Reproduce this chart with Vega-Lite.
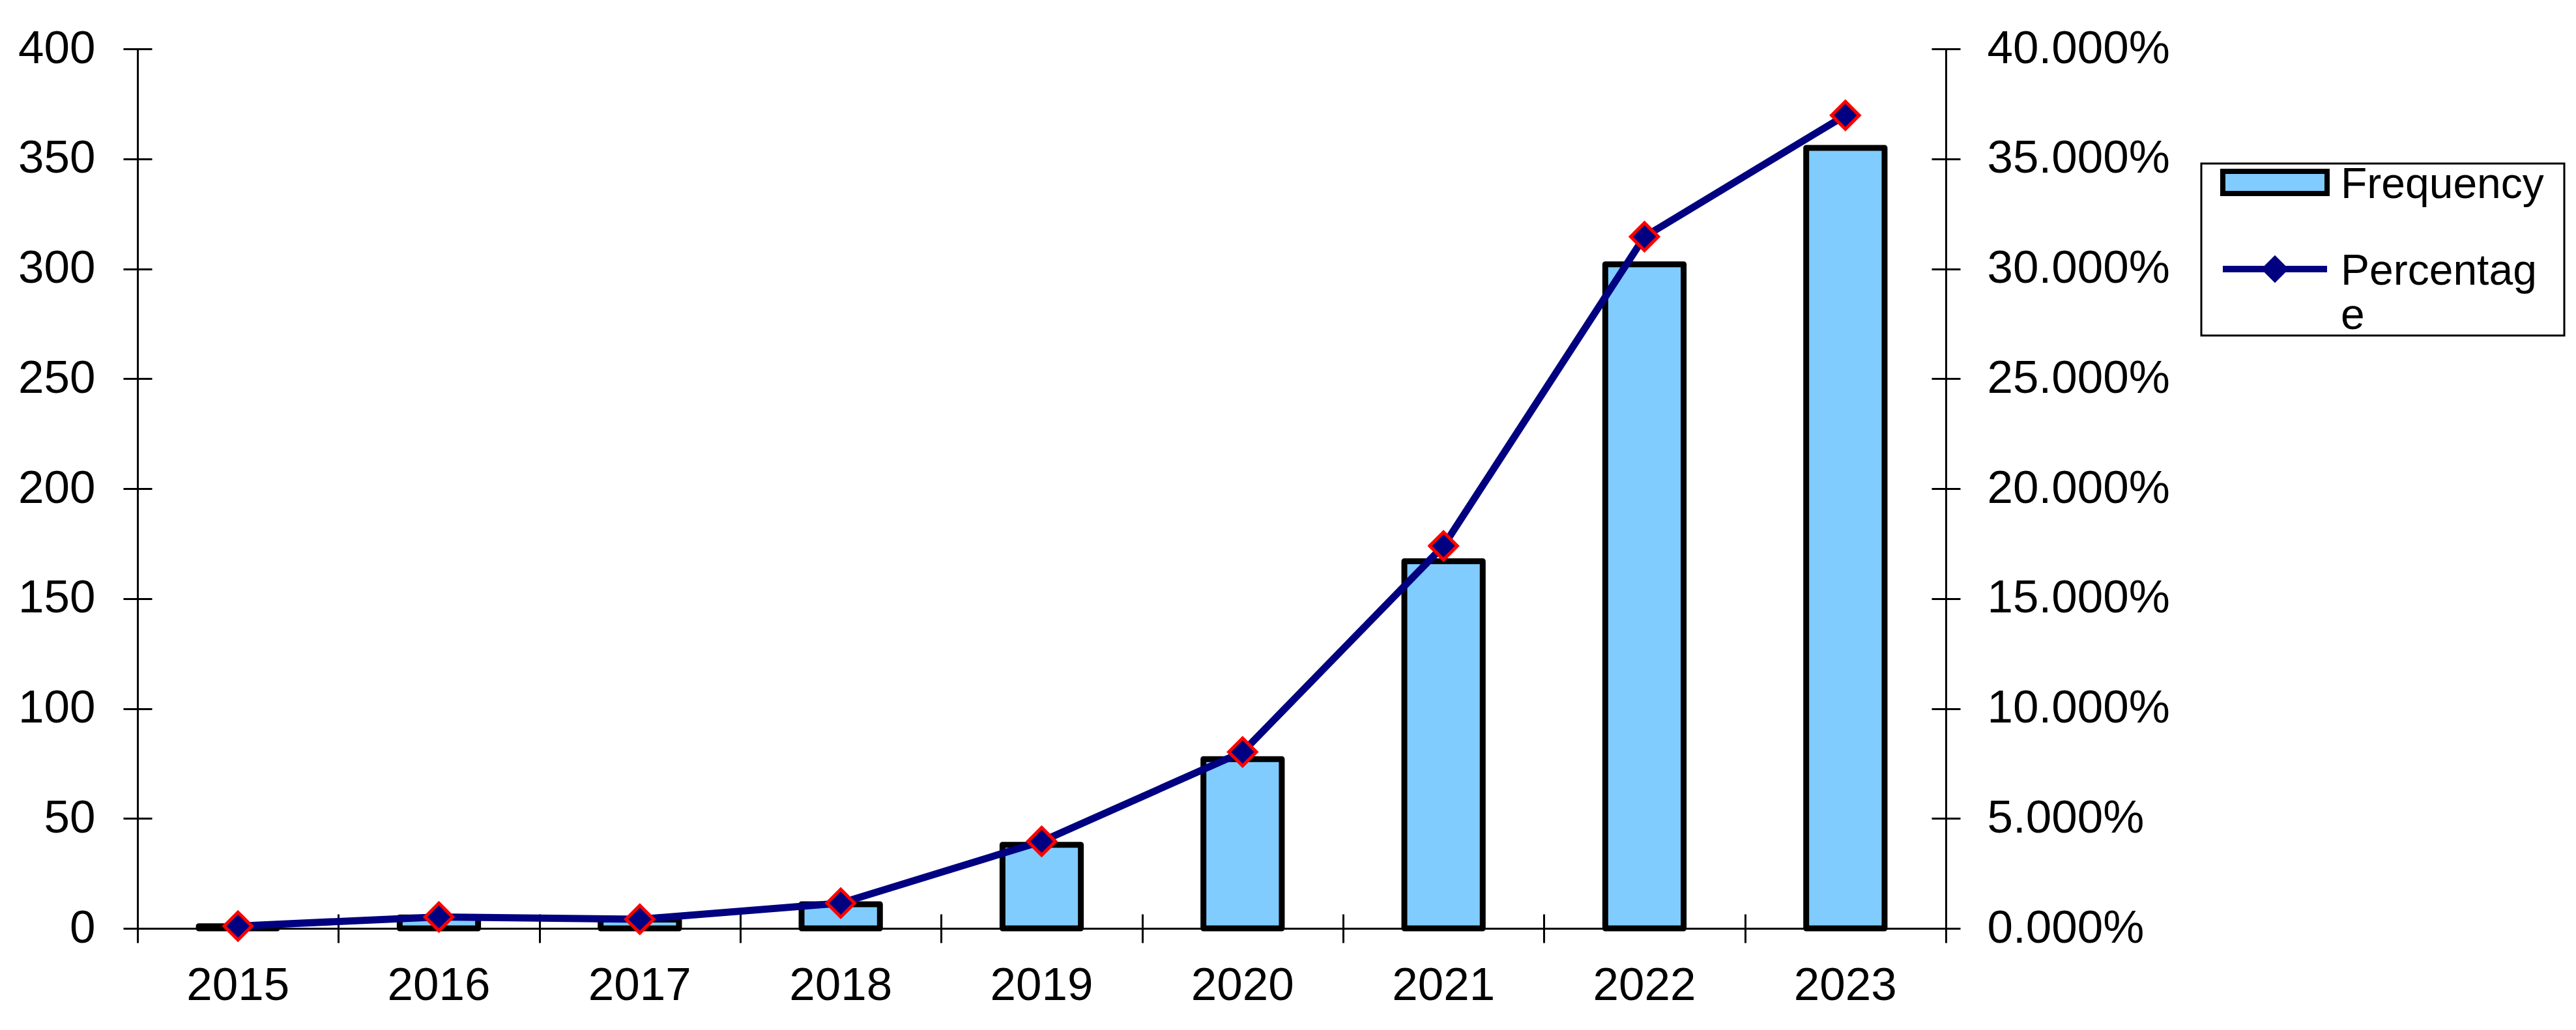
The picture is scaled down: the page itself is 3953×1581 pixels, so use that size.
{
  "$schema": "https://vega.github.io/schema/vega-lite/v6.json",
  "width": 2775,
  "height": 1350,
  "autosize": {"type": "none"},
  "padding": {"left": 211, "top": 75, "right": 967, "bottom": 156},
  "background": "white",
  "config": {
    "font": "Liberation Sans",
    "view": {"stroke": null},
    "axis": {"labelFont": "Liberation Sans", "labelFontSize": 71, "labelColor": "black", "labelLimit": 1000, "domainColor": "black", "domainWidth": 3, "tickColor": "black", "tickWidth": 3, "grid": false, "title": null},
    "legend": {"labelFont": "Liberation Sans", "labelFontSize": 66, "labelColor": "black", "strokeWidth": 3}
  },
  "data": {"values": [
    {"year": "2015", "freq": 1, "pct": 0.00104},
    {"year": "2016", "freq": 5, "pct": 0.00521},
    {"year": "2017", "freq": 4, "pct": 0.00417},
    {"year": "2018", "freq": 11, "pct": 0.01146},
    {"year": "2019", "freq": 38, "pct": 0.03958},
    {"year": "2020", "freq": 77, "pct": 0.08021},
    {"year": "2021", "freq": 167, "pct": 0.17396},
    {"year": "2022", "freq": 302, "pct": 0.31458},
    {"year": "2023", "freq": 355, "pct": 0.36979}
  ]},
  "layer": [
    {
      "mark": {"type": "bar", "stroke": "black", "strokeWidth": 9, "strokeJoin": "round", "width": {"band": 0.39}},
      "encoding": {
        "x": {"field": "year", "type": "ordinal", "scale": {"type": "band", "paddingInner": 0, "paddingOuter": 0},
              "axis": {"orient": "bottom", "ticks": false, "labelPadding": 53, "labelAngle": 0, "domain": true, "title": null}},
        "y": {"field": "freq", "type": "quantitative", "scale": {"domain": [0, 400], "nice": false},
              "axis": {"orient": "left", "values": [0, 50, 100, 150, 200, 250, 300, 350, 400], "ticks": false, "labelPadding": 65, "title": null}},
        "color": {"datum": "Frequency", "type": "nominal",
                  "scale": {"domain": ["Frequency"], "range": ["#80CCFF"]},
                  "legend": {
                    "title": null, "orient": "none", "legendX": 3167, "legendY": 176,
                    "padding": 20, "strokeColor": "black",
                    "symbolType": "M-4,-2.05H4V-0.35H-4ZM20.4,8.75",
                    "symbolSize": 1600, "symbolStrokeWidth": 8, "symbolStrokeColor": "black", "symbolFillColor": "#80CCFF",
                    "symbolOffset": 60, "labelOffset": 68, "labelLimit": 2000, "labelBaseline": "alphabetic"
                  }}
      }
    },
    {
      "mark": {"type": "line", "strokeWidth": 11, "strokeJoin": "round"},
      "encoding": {
        "x": {"field": "year", "type": "ordinal", "axis": null},
        "y": {"field": "pct", "type": "quantitative", "scale": {"domain": [0, 0.4], "nice": false},
              "axis": {"orient": "right", "values": [0, 0.05, 0.1, 0.15, 0.2, 0.25, 0.3, 0.35, 0.4], "format": ".3%", "ticks": false, "labelPadding": 63, "title": null}},
        "stroke": {"datum": "Percentage", "type": "nominal",
                   "scale": {"domain": ["Percentage"], "range": ["#000080"]},
                   "legend": {
                     "title": null, "orient": "none", "legendX": 3167, "legendY": 329, "padding": 0,
                     "symbolType": "M-4,-1.2H4", "symbolSize": 1600, "symbolStrokeWidth": 10, "symbolStrokeColor": "#000080",
                     "symbolOffset": 80, "labelOffset": 68, "labelLimit": 2000, "labelBaseline": "alphabetic",
                     "labelExpr": "['Percentag', 'e']"
                   }}
      }
    },
    {
      "mark": {"type": "point", "filled": true, "fill": "#000080", "stroke": "#FF0000", "strokeWidth": 5, "size": 1800, "opacity": 1},
      "encoding": {
        "x": {"field": "year", "type": "ordinal",
              "axis": {"orient": "bottom", "offset": 22, "tickSize": -44, "tickBand": "extent", "labels": false, "domain": false, "title": null}},
        "y": {"field": "pct", "type": "quantitative", "scale": {"domain": [0, 0.4], "nice": false},
              "axis": {"orient": "left", "offset": 22, "tickSize": -2819, "tickDash": [44, 2731, 44], "values": [0, 0.05, 0.1, 0.15, 0.2, 0.25, 0.3, 0.35, 0.4], "labels": false, "domain": false, "title": null}},
        "shape": {"datum": "Percentage marker", "type": "nominal",
                  "scale": {"domain": ["Percentage marker"], "range": ["diamond"]},
                  "legend": {"title": null, "orient": "none", "legendX": 3256, "legendY": 314, "padding": 0,
                             "symbolType": "diamond", "symbolSize": 1800, "symbolStrokeWidth": 5, "symbolFillColor": "#000080", "symbolStrokeColor": "#FF0000",
                             "labelExpr": "''", "labelFontSize": 1, "symbolOffset": 0}}
      }
    }
  ],
  "resolve": {"scale": {"y": "independent"}, "axis": {"x": "independent", "y": "independent"}}
}
